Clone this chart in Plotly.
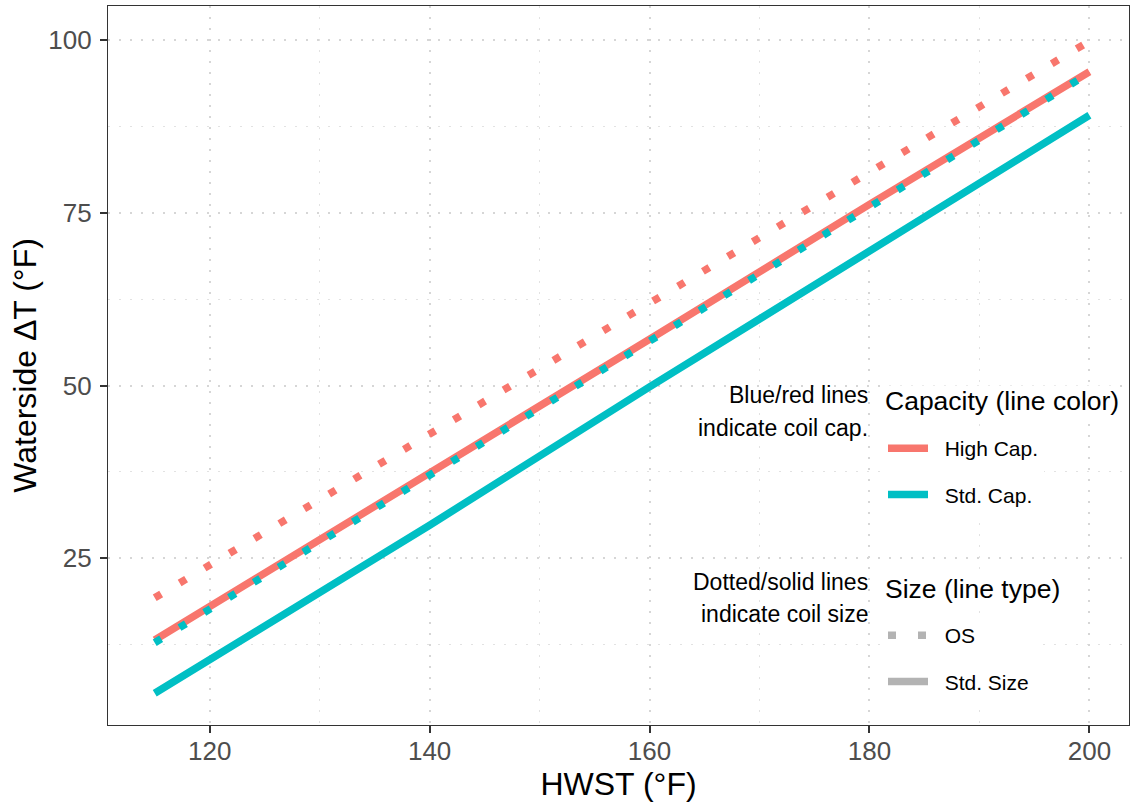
import plotly.graph_objects as go

# Data
hwst = [115, 140, 160, 180, 200]
high_cap_os = [19.3, 43.0, 62.0, 81.0, 99.8]
high_cap_std = [13.2, 37.3, 56.7, 76.2, 95.4]
std_cap_os = [12.8, 37.0, 56.5, 75.9, 95.2]
std_cap_std = [5.5, 29.8, 49.8, 69.6, 89.1]

x_ticks = [120, 140, 160, 180, 200]
y_ticks = [25, 50, 75, 100]

RED = "#F8766D"
TEAL = "#00BFC4"
GREY_KEY = "#B3B3B3"
FONT = "Liberation Sans, Arial, sans-serif"
DOT = "7.5px,21.5px"
LW = 7.5
NB = "\u00a0\u00a0"

# plot-area geometry in pixels (for placing legends/notes)
L, R, T, B = 108, 1129, 6, 725
W, H = R - L, B - T
def px(xp):
    return (xp - L) / W
def py(yp):
    return (B - yp) / H

fig = go.Figure()

series = [
    (high_cap_os, RED, DOT),
    (high_cap_std, RED, "solid"),
    (std_cap_os, TEAL, DOT),
    (std_cap_std, TEAL, "solid"),
]
for ys, col, dash in series:
    fig.add_trace(go.Scatter(x=hwst, y=ys, mode="lines",
                             line=dict(color=col, width=LW, dash=dash),
                             showlegend=False, hoverinfo="skip"))

# Legend entries
legend_entries = [
    ("High Cap.", RED, "solid", "legend", "g1"),
    ("Std. Cap.", TEAL, "solid", "legend", "g2"),
    ("OS", GREY_KEY, "8px,22px", "legend2", "g3"),
    ("Std. Size", GREY_KEY, "solid", "legend2", "g4"),
]
for name, col, dash, lg, grp in legend_entries:
    fig.add_trace(go.Scatter(x=[None], y=[None], mode="lines", name=NB + name,
                             line=dict(color=col, width=LW, dash=dash),
                             legend=lg, legendgroup=grp, showlegend=True))

axis_common = dict(
    showline=True, mirror=True, linecolor="#333333", linewidth=1.3,
    ticks="outside", ticklen=7, tickwidth=1.6, tickcolor="#333333",
    tickfont=dict(family=FONT, size=26, color="#4D4D4D"),
    showgrid=True, gridcolor="#D6D6D6", gridwidth=1.6, griddash="2px,9px",
    zeroline=False, automargin=True,
)
minor_common = dict(showgrid=True, gridcolor="#E2E2E2", griddash="2px,9px",
                    gridwidth=1.3, ticks="")

fig.update_layout(
    width=1130, height=802,
    margin=dict(l=L, r=1130 - R, t=T, b=802 - B),
    paper_bgcolor="white", plot_bgcolor="white",
    font=dict(family=FONT, color="black"),
    xaxis=dict(range=[110.75, 203.6], tickvals=x_ticks, ticklabelstandoff=-4,
               minor=dict(dtick=10, tick0=110, **minor_common),
               title=dict(text="HWST (°F)", font=dict(family=FONT, size=32), standoff=8),
               **axis_common),
    yaxis=dict(range=[0.9, 104.9], tickvals=y_ticks, ticklabelstandoff=3,
               minor=dict(dtick=12.5, tick0=0, **minor_common),
               title=dict(text="Waterside ΔT (°F)", font=dict(family=FONT, size=32), standoff=2),
               **axis_common),
    legend=dict(x=px(883), y=py(428), xanchor="left", yanchor="top",
                bgcolor="white", tracegroupgap=16, itemwidth=40,
                font=dict(family=FONT, size=21)),
    legend2=dict(x=px(883), y=py(615), xanchor="left", yanchor="top",
                 bgcolor="white", tracegroupgap=16, itemwidth=40,
                 font=dict(family=FONT, size=21)),
)

notes = [
    ("Blue/red lines", 869, 395, "right", 23, None),
    ("indicate coil cap.", 869, 428, "right", 23, None),
    ("Dotted/solid lines", 869, 582, "right", 23, None),
    ("indicate coil size", 869, 614, "right", 23, None),
    ("Capacity (line color)", 884, 401, "left", 26.5, "white"),
    ("Size (line type)", 884, 589, "left", 26.5, "white"),
]
for text, xp, yp, anchor, size, bg in notes:
    fig.add_annotation(xref="paper", yref="paper", x=px(xp), y=py(yp),
                       xanchor=anchor, yanchor="middle", showarrow=False,
                       text=text, font=dict(family=FONT, size=size, color="black"),
                       borderpad=0, bgcolor=bg)

fig.write_html("out.html", post_script="document.body.style.margin='0';",
               config={"displayModeBar": False})
